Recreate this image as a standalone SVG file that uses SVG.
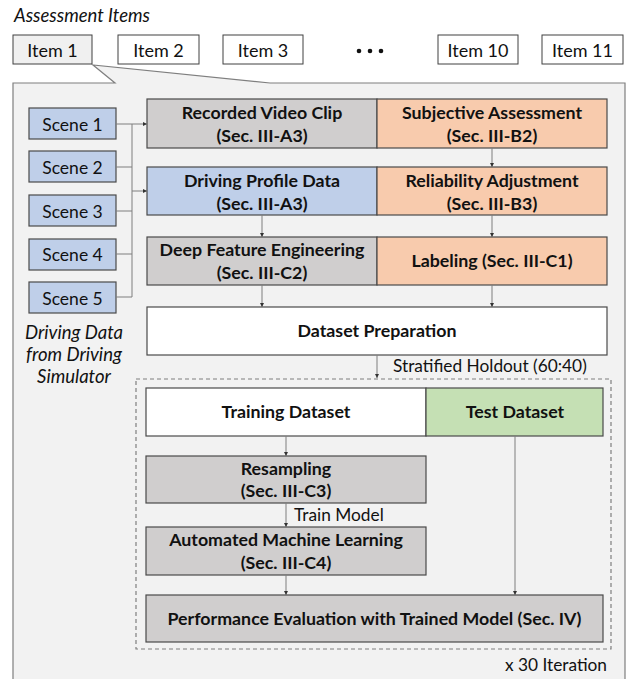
<svg xmlns="http://www.w3.org/2000/svg" width="626" height="679" viewBox="0 0 626 679">
<style>
text{font-family:Lato,"Open Sans","Liberation Sans",sans-serif;fill:#111;}
.it{font-size:18px;text-anchor:middle;}
.b{font-size:17.8px;font-weight:bold;text-anchor:middle;}
.sc{font-size:17.5px;text-anchor:middle;}
.i{font-style:italic;font-size:18.5px;}
.r{font-size:17.3px;}
.gray{fill:#d0cece;stroke:#4a4a4a;stroke-width:1.2;}
.org{fill:#f8cbad;stroke:#4a4a4a;stroke-width:1.2;}
.blue{fill:#bfcfe9;stroke:#4a4a4a;stroke-width:1.2;}
.wht{fill:#ffffff;stroke:#4a4a4a;stroke-width:1.2;}
.grn{fill:#c5e0b4;stroke:#4a4a4a;stroke-width:1.2;}
.itm{fill:#ffffff;stroke:#404040;stroke-width:1;}
.c{fill:none;stroke:#7f7f7f;stroke-width:1;}
.ca{fill:none;stroke:#7f7f7f;stroke-width:1;marker-end:url(#ah);}
</style>
<defs>
<marker id="ah" viewBox="0 0 6 6" refX="6" refY="3" markerWidth="4" markerHeight="4" orient="auto" markerUnits="userSpaceOnUse">
<path d="M0,0 L6,3 L0,6 z" fill="#333"/>
</marker>
</defs>
<rect width="626" height="679" fill="#ffffff"/>
<text class="i" x="14" y="22">Assessment Items</text>

<polygon id="panel" points="13,83 115,83 93,65 270,83 625,83 625,690 13,690" fill="#f2f2f2" stroke="#7f7f7f" stroke-width="1.2"/>

<g id="item1"><rect x="13" y="35" width="79" height="29" fill="#f0f0f0" stroke="#404040" stroke-width="1"/><text class="it" x="52.5" y="56.5">Item 1</text></g>
<g id="item2"><rect class="itm" x="118" y="35" width="81" height="29"/><text class="it" x="158.5" y="56.5">Item 2</text></g>
<g id="item3"><rect class="itm" x="223" y="35" width="80" height="29"/><text class="it" x="263" y="56.5">Item 3</text></g>
<g id="dots" fill="#111"><circle cx="359" cy="51" r="2.3"/><circle cx="370" cy="51" r="2.3"/><circle cx="381" cy="51" r="2.3"/></g>
<g id="item10"><rect class="itm" x="438" y="35" width="80" height="29"/><text class="it" x="478" y="56.5">Item 10</text></g>
<g id="item11"><rect class="itm" x="542" y="35" width="81" height="29"/><text class="it" x="582.5" y="56.5">Item 11</text></g>

<g id="scene1"><rect class="blue" x="29" y="108" width="87" height="31"/><text class="sc" x="72.5" y="130.5">Scene 1</text></g>
<g id="scene2"><rect class="blue" x="29" y="151" width="87" height="31"/><text class="sc" x="72.5" y="173.5">Scene 2</text></g>
<g id="scene3"><rect class="blue" x="29" y="195" width="87" height="31"/><text class="sc" x="72.5" y="217.5">Scene 3</text></g>
<g id="scene4"><rect class="blue" x="29" y="239" width="87" height="31"/><text class="sc" x="72.5" y="261">Scene 4</text></g>
<g id="scene5"><rect class="blue" x="29" y="282" width="87" height="31"/><text class="sc" x="72.5" y="304.5">Scene 5</text></g>
<text class="i" x="74" y="339" text-anchor="middle">Driving Data</text>
<text class="i" x="74" y="361" text-anchor="middle">from Driving</text>
<text class="i" x="74" y="383" text-anchor="middle">Simulator</text>

<g id="video"><rect class="gray" x="147" y="99" width="230" height="49"/><text class="b" x="262" y="119">Recorded Video Clip</text><text class="b" x="262" y="142">(Sec. III-A3)</text></g>
<g id="subjective"><rect class="org" x="377" y="99" width="230" height="49"/><text class="b" x="492" y="119">Subjective Assessment</text><text class="b" x="492" y="142">(Sec. III-B2)</text></g>
<g id="profile"><rect class="blue" x="147" y="167" width="230" height="48"/><text class="b" x="262" y="187">Driving Profile Data</text><text class="b" x="262" y="210">(Sec. III-A3)</text></g>
<g id="reliability"><rect class="org" x="377" y="167" width="230" height="48"/><text class="b" x="492" y="187">Reliability Adjustment</text><text class="b" x="492" y="210">(Sec. III-B3)</text></g>
<g id="feature"><rect class="gray" x="147" y="237" width="230" height="48"/><text class="b" x="262" y="256">Deep Feature Engineering</text><text class="b" x="262" y="279">(Sec. III-C2)</text></g>
<g id="labeling"><rect class="org" x="377" y="237" width="230" height="48"/><text class="b" x="492" y="267">Labeling (Sec. III-C1)</text></g>
<g id="prep"><rect class="wht" x="147" y="307" width="460" height="48"/><text class="b" x="377" y="337">Dataset Preparation</text></g>

<rect id="loop" x="136" y="379" width="475" height="270" fill="none" stroke="#7f7f7f" stroke-width="1.2" stroke-dasharray="4,3"/>

<g id="training"><rect class="wht" x="146" y="388" width="280" height="48"/><text class="b" x="286" y="418">Training Dataset</text></g>
<g id="test"><rect class="grn" x="426" y="388" width="177" height="48"/><text class="b" x="515" y="418">Test Dataset</text></g>
<g id="resampling"><rect class="gray" x="146" y="456" width="280" height="47"/><text class="b" x="286" y="475">Resampling</text><text class="b" x="286" y="497">(Sec. III-C3)</text></g>
<g id="automl"><rect class="gray" x="146" y="527" width="280" height="48"/><text class="b" x="286" y="546">Automated Machine Learning</text><text class="b" x="286" y="569">(Sec. III-C4)</text></g>
<g id="perf"><rect class="gray" x="146" y="595" width="457" height="47"/><text class="b" x="374.5" y="625">Performance Evaluation with Trained Model (Sec. IV)</text></g>

<g id="connectors">
<path class="c" d="M116,124 H132 M116,167 H132 M116,211 H132 M116,254 H132 M116,297 H132 M132,124 V297"/>
<path class="ca" d="M132,124 H147"/>
<path class="ca" d="M132,191 H147"/>
<path class="ca" d="M492,148 V167"/>
<path class="ca" d="M492,215 V237"/>
<path class="ca" d="M262,215 V237"/>
<path class="ca" d="M262,285 V307"/>
<path class="ca" d="M492,285 V307"/>
<path class="ca" d="M377,355 V378"/>
<path class="ca" d="M286,436 V456"/>
<path class="ca" d="M286,503 V527"/>
<path class="ca" d="M286,575 V595"/>
<path class="ca" d="M515,436 V595"/>
</g>
<text class="r" x="393" y="372">Stratified Holdout (60:40)</text>
<text class="r" x="294" y="521">Train Model</text>
<text class="r" x="607" y="671" text-anchor="end">x 30 Iteration</text>
</svg>
